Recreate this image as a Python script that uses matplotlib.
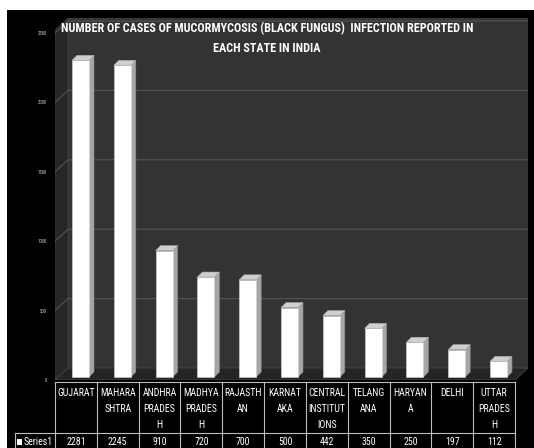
import matplotlib
matplotlib.use("Agg")
import matplotlib.pyplot as plt
from matplotlib.patches import Polygon, Rectangle

states = ["GUJARAT", "MAHARA\nSHTRA", "ANDHRA\nPRADES\nH", "MADHYA\nPRADES\nH",
          "RAJASTH\nAN", "KARNAT\nAKA", "CENTRAL\nINSTITUT\nIONS", "TELANG\nANA",
          "HARYAN\nA", "DELHI", "UTTAR\nPRADES\nH"]
cases = [2281, 2245, 910, 720, 700, 500, 442, 350, 250, 197, 112]
series_name = "Series1"
yticks = [0, 500, 1000, 1500, 2000, 2500]
title = "NUMBER OF CASES OF MUCORMYCOSIS (BLACK FUNGUS)  INFECTION REPORTED IN\nEACH STATE IN INDIA"

FONT = ["Liberation Sans Narrow", "Roboto Condensed", "Liberation Sans", "DejaVu Sans"]
W, H = 534, 448
fig = plt.figure(figsize=(W / 100, H / 100), dpi=100, facecolor="white")
fig.patches.append(Rectangle((7 / W, 0), 1, (H - 10) / H, transform=fig.transFigure,
                             facecolor="black", edgecolor="none", zorder=-5))

# geometry in pixels
colw = 41.8
x_left_px, x_right_px = 55, 528
y_top_px, y_floor_px = 18, 380
pxu = 0.1388  # px per data unit (y)

ax = fig.add_axes([x_left_px / W, (H - y_floor_px) / H,
                   (x_right_px - x_left_px) / W, (y_floor_px - y_top_px) / H])
ax.set_facecolor("none")
xmin = -0.5
xmax = xmin + (x_right_px - x_left_px) / colw
YT = (y_floor_px - y_top_px) / pxu
ax.set_xlim(xmin, xmax)
ax.set_ylim(0, YT)
for s in ax.spines.values():
    s.set_visible(False)
ax.set_xticks([])

DX = 13 / colw
DY = 12 / pxu

# walls
ax.add_patch(Polygon([(xmin, 0), (xmin, YT - DY), (xmin + DX, YT), (xmin + DX, DY)],
                     closed=True, facecolor="#262626", edgecolor="#3a3a3a", lw=0.6, zorder=1))
ax.add_patch(Polygon([(xmin + DX, DY), (xmin + DX, YT), (xmax, YT), (xmax, DY)],
                     closed=True, facecolor="#333333", edgecolor="#444444", lw=0.6, zorder=1))
ax.add_patch(Polygon([(xmin, 0), (xmin + DX, DY), (xmax, DY), (xmax - DX, 0)],
                     closed=True, facecolor="#242424", edgecolor="#4a4a4a", lw=0.6, zorder=1))
for t in yticks[1:]:
    ax.plot([xmin, xmin + DX, xmax], [t, t + DY, t + DY], color="#555555", lw=0.8, zorder=2)

ax.set_yticks(yticks)
ax.set_yticklabels([str(t) for t in yticks], color="#cfcfcf", fontsize=3.4, family=FONT)
ax.tick_params(axis="y", length=0, pad=6)

# 3D-ish bars
xs = list(range(len(cases)))
bw = 17 / colw
boff = 4.6 / colw
base = 3 / pxu
bdx = 5 / colw
bdy = 5 / pxu
xl = [x + boff - bw / 2 for x in xs]
ax.bar([x + boff for x in xs], cases, width=bw, bottom=base, color="white",
       edgecolor="#d8d8d8", lw=0.4, zorder=4)
for x0, v in zip(xl, cases):
    xr = x0 + bw
    top = base + v
    ax.add_patch(Polygon([(xr, base), (xr + bdx, base + bdy), (xr + bdx, top + bdy), (xr, top)],
                         closed=True, facecolor="#a6a6a6", edgecolor="#8c8c8c", lw=0.4, zorder=3))
    ax.add_patch(Polygon([(x0, top), (x0 + bdx, top + bdy), (xr + bdx, top + bdy), (xr, top)],
                         closed=True, facecolor="#cfcfcf", edgecolor="#b0b0b0", lw=0.4, zorder=5))

fig.canvas.draw()
r = fig.canvas.get_renderer()


def fit_size(s, target_px, **kw):
    probe = fig.text(0, 0, s, fontsize=10, family=FONT, **kw)
    wpx = probe.get_window_extent(r).width
    probe.remove()
    return 10 * target_px / wpx


# title (fit first line to ~412 px)
tfs = fit_size(title.split("\n")[0], 412, fontweight="bold")
fig.text(267 / W, 1 - 22 / H, title, ha="center", va="top", color="white",
         fontsize=tfs, fontweight="bold", family=FONT, linespacing=1.7)

# table
tx0 = 15
tax = fig.add_axes([tx0 / W, 0, (515 - tx0) / W, (H - y_floor_px) / H])
tax.set_facecolor("none")
tax.axis("off")
txmin = xmin - (55 - tx0) / colw
tax.set_xlim(txmin, 10.5)
tax.set_ylim(H - y_floor_px, 0)
lc = "#bdbdbd"
lw = 0.8
row2 = 53
tax.plot([xmin, 10.5], [1.5, 1.5], color=lc, lw=lw, clip_on=False)
tax.plot([txmin, 10.5], [row2, row2], color=lc, lw=lw, clip_on=False)
for i in range(len(cases) + 1):
    tax.plot([xmin + i, xmin + i], [1.5, 68], color=lc, lw=lw, clip_on=False)
tax.plot([txmin + 0.01, txmin + 0.01], [row2, 68], color=lc, lw=lw, clip_on=False)
TFS = min(fit_size("INSTITUT", 37), 7.2)
for x, name, v in zip(xs, states, cases):
    tax.text(x, 7.5, name, ha="center", va="top", color="white", fontsize=TFS,
             family=FONT, linespacing=1.75)
    tax.text(x, 61.5, str(v), ha="center", va="center", color="white", fontsize=TFS,
             family=FONT)
tax.add_patch(Rectangle((txmin + 2 / colw, 58.5), 5 / colw, 6, facecolor="white",
                        edgecolor="none", clip_on=False))
tax.text(txmin + 9 / colw, 61.5, series_name, ha="left", va="center", color="white",
         fontsize=TFS, family=FONT)

fig.savefig("out.png", dpi=100, facecolor="white")
